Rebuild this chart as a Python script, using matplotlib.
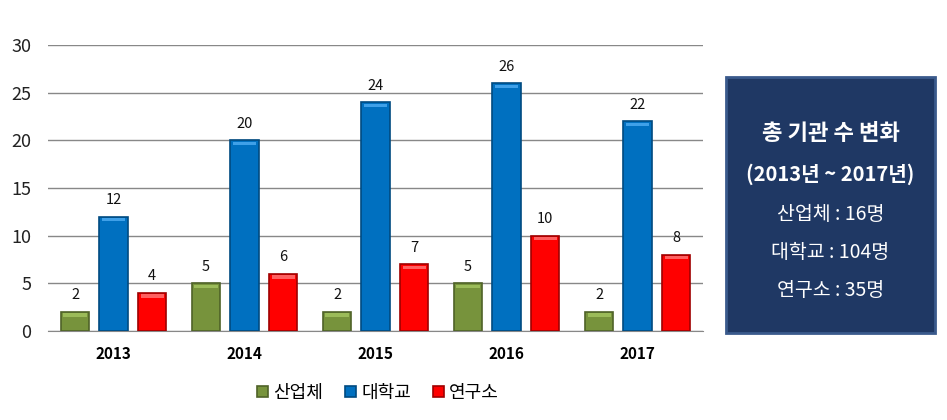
import numpy as np
import matplotlib
matplotlib.use("Agg")
import matplotlib.pyplot as plt
from matplotlib.patches import FancyBboxPatch

plt.rcParams['font.family'] = ['Noto Sans CJK KR', 'DejaVu Sans']

years = ['2013', '2014', '2015', '2016', '2017']
series_names = ['산업체', '대학교', '연구소']
industry = [2, 5, 2, 5, 2]
university = [12, 20, 24, 26, 22]
institute = [4, 6, 7, 10, 8]
summary_title = ['총 기관 수 변화', '(2013년 ~ 2017년)']
summary_lines = ['산업체 : 16명', '대학교 : 104명', '연구소 : 35명']

colors = ['#77933C', '#0070C0', '#FF0000']
edges = ['#4F6228', '#004A80', '#A00000']
highlights = ['#9BBB59', '#3FA0E8', '#FF6060']

fig = plt.figure(figsize=(9.47, 4.2), dpi=100)
ax = fig.add_axes([0.0507, 0.212, 0.6917, 0.681])

x = np.arange(len(years))
width = 0.22
offsets = [-0.294, 0, 0.294]
handles = []
for vals, off, c, ec, hc, name in zip([industry, university, institute], offsets, colors, edges,
                                      highlights, series_names):
    bars = ax.bar(x + off, vals, width, color=c, edgecolor=ec, linewidth=1.2, label=name, zorder=3)
    handles.append(bars)
    # light band at the top of each bar for the bevel look
    ax.bar(x + off, [0.35] * len(vals), width * 0.8, bottom=np.array(vals) - 0.5,
           color=hc, linewidth=0, zorder=4)
    for b, v in zip(bars, vals):
        ax.text(b.get_x() + b.get_width() / 2, v + 1.0, str(v), ha='center', va='bottom',
                fontsize=10.5, color='#111111')

ax.set_xlim(-0.5, len(years) - 0.5)
ax.set_ylim(0, 30)
ax.set_yticks(range(0, 31, 5))
ax.yaxis.grid(True, color='#888888', linewidth=1.0, zorder=0)
ax.set_axisbelow(True)
for s in ['top', 'right', 'left']:
    ax.spines[s].set_visible(False)
ax.spines['bottom'].set_color('#888888')
ax.tick_params(axis='y', length=0, labelsize=13, pad=12, colors='#222222')
ax.tick_params(axis='x', length=0, pad=11)
ax.set_xticks(x)
ax.set_xticklabels(years, fontsize=11, fontweight='bold')

fig.legend(handles, series_names, loc='center', bbox_to_anchor=(378 / 947, 1 - 393 / 420),
           ncol=3, frameon=False, fontsize=13, handlelength=0.6, handleheight=0.6,
           handletextpad=0.3, columnspacing=1.2)

# summary box
bx0, by0, bx1, by1 = 726 / 947, 1 - 333 / 420, 935 / 947, 1 - 77 / 420
box = FancyBboxPatch((bx0, by0), bx1 - bx0, by1 - by0, boxstyle='square,pad=0',
                     transform=fig.transFigure, facecolor='#1F3864', edgecolor='#3A5A8C',
                     linewidth=2)
fig.patches.append(box)
cx = (bx0 + bx1) / 2
fig.text(cx, 1 - 133 / 420, summary_title[0], ha='center', va='center', color='white',
         fontsize=16, fontweight='bold')
fig.text(cx, 1 - 174 / 420, summary_title[1], ha='center', va='center', color='white',
         fontsize=14.5, fontweight='bold')
for i, line in enumerate(summary_lines):
    fig.text(cx, 1 - (214 + 38 * i) / 420, line, ha='center', va='center', color='white',
             fontsize=14)

fig.savefig('out.png', dpi=100)
